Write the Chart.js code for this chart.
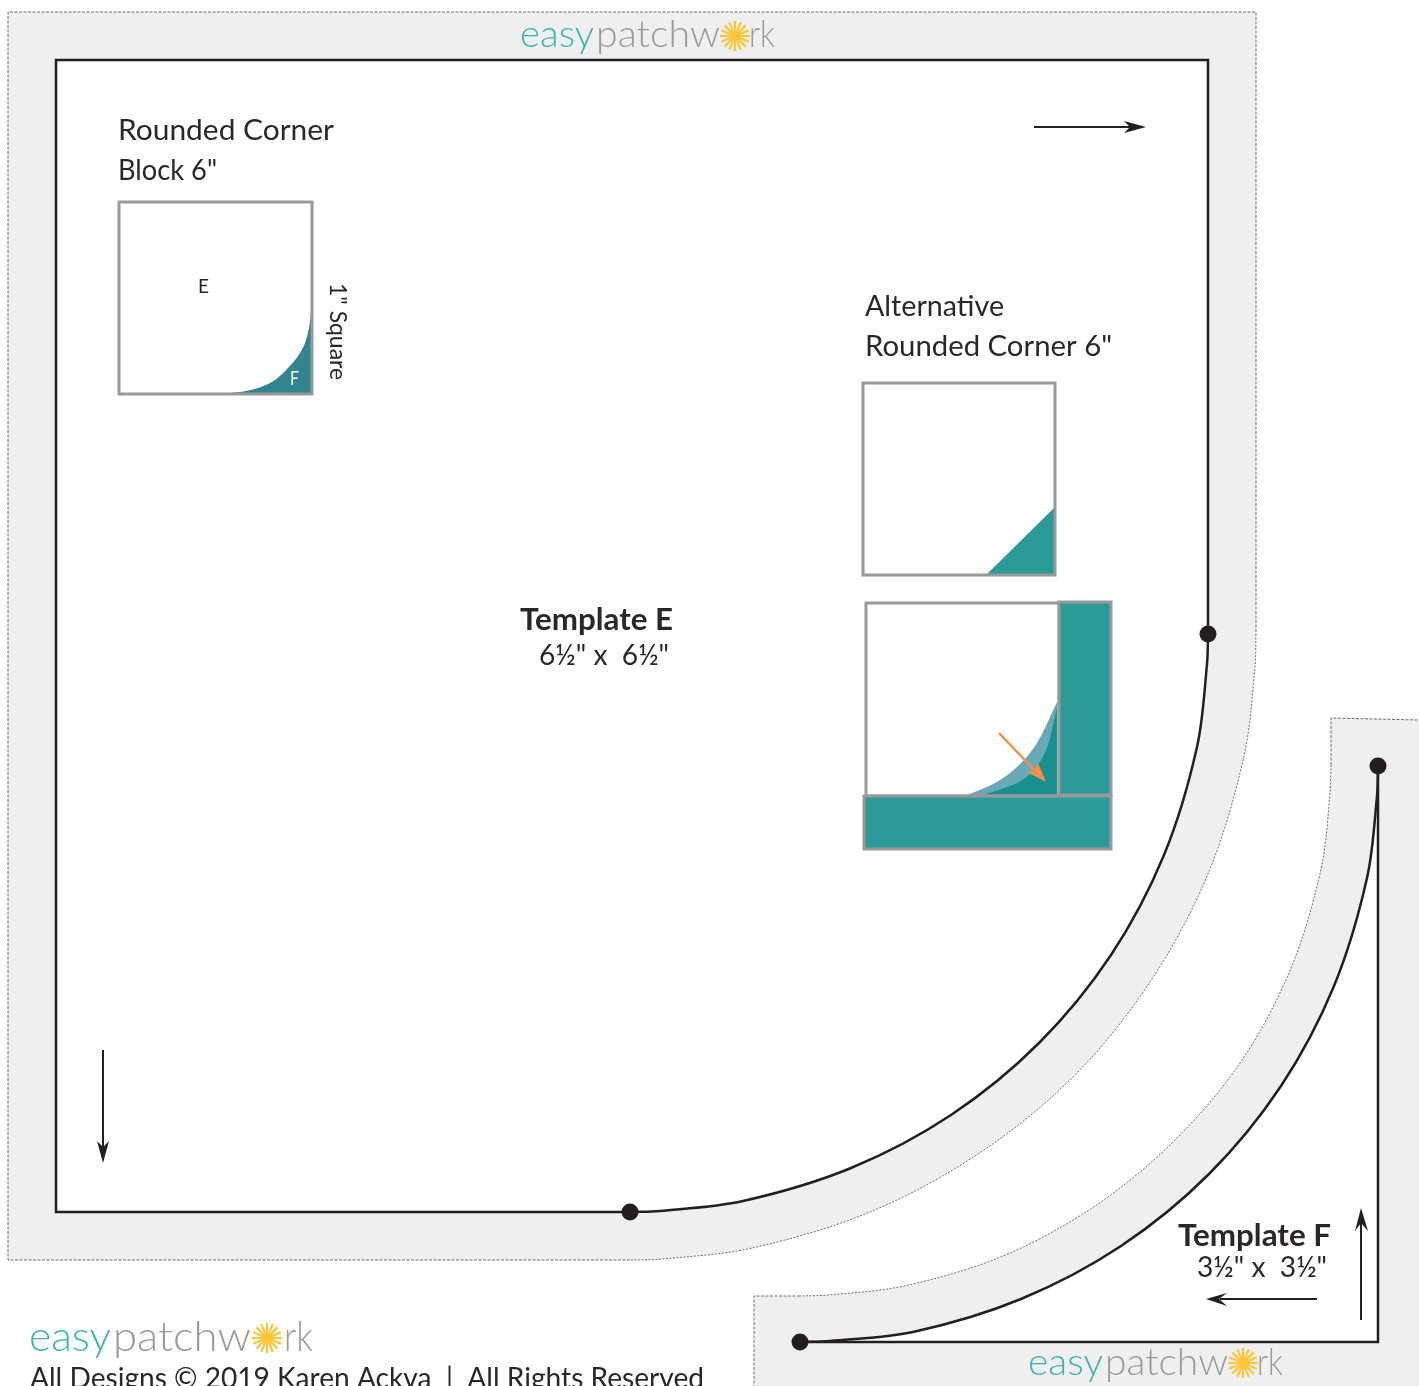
<!DOCTYPE html>
<html>
<head>
<meta charset="utf-8">
<title>Template E and F</title>
<style>
  html, body { margin: 0; padding: 0; background: #fff; overflow: hidden; }
  canvas { display: block; }
</style>
<script src="https://cdn.jsdelivr.net/npm/chart.js@4"></script>
</head>
<body>
<canvas id="chart1" width="1419" height="1386" style="width:1419px;height:1386px"></canvas>
<script>
//Template E outlines
var seamBoxE = [[8,12],[1256,12],[1256,636],[632,636],[632,1260],[8,1260]];
var seamArcE = [[1256,634],[1255,667],[1244,756],[1208,874],[1150,982],[1073,1077],[978,1154],[870,1212],[752,1248],[663,1259],[630,1260]];
var seamEdgeE = [[630,1260],[8,1260],[8,12],[1256,12],[1256,634]];
var cutBoxE = [[56,60],[1208,60],[1208,636],[632,636],[632,1212],[56,1212]];
var cutArcE = [[1208,634],[1207,664],[1197,747],[1164,855],[1111,955],[1039,1043],[951,1115],[851,1168],[743,1201],[660,1211],[630,1212]];
var cutEdgeE = [[630,1212],[56,1212],[56,60],[1208,60],[1208,634]];

//Template F outlines
var seamBoxF = [[1331,718],[1419,720],[1419,1386],[754,1386],[754,1296],[802,1296],[802,1380],[1331,1380]];
var seamArcF = [[1331,765],[1330,793],[1321,869],[1291,968],[1242,1060],[1175,1140],[1095,1206],[1003,1256],[904,1286],[828,1295],[800,1296]];
var seamEdgeF = [[800,1296],[754,1296],[754,1386]];
var seamTopF = [[1331,765],[1331,718],[1419,720]];
var cutCornerF = [[1378,766],[1378,1342],[800,1342]];
var cutArcF = [[1378,766],[1377,796],[1367,878],[1334,986],[1281,1086],[1209,1174],[1121,1246],[1021,1299],[913,1332],[830,1341],[800,1342]];

var matchDots = [[1208,634],[630,1212],[1378,766],[800,1342]];

//Small block pictures
var blockOne = [[119,202],[312,202],[312,394],[119,394]];
var blockOneCurve = [[230,393],[246,391],[261,387],[275,380],[287,369],[298,356],[305,343],[309,328],[311,312]];
var blockTwo = [[863,383],[1055,383],[1055,575],[863,575]];
var blockTwoCorner = [[987,574],[1055,507],[1055,574]];
var blockThree = [[866,603],[1059,603],[1059,796],[866,796]];
var stripRight = [[1059,602],[1111,602],[1111,795],[1059,795]];
var stripBottom = [[864,796],[1111,796],[1111,849],[864,849]];
var foldLightCurve = [[967,795],[995,783],[1017,767],[1037,743],[1057,702]];
var foldDarkCurve = [[983,795],[1017,783],[1034,770],[1047,748],[1057,707]];

//Arrows: shaft then head
var arrowRight = [[1034,127],[1132,127]];
var arrowRightHead = [[1146,127],[1124,121],[1130,127],[1124,133]];
var arrowDown = [[103,1050],[103,1150]];
var arrowDownHead = [[103,1163],[97,1141],[103,1147],[109,1141]];
var arrowLeft = [[1317,1299],[1220,1299]];
var arrowLeftHead = [[1206,1299],[1227,1293],[1219,1299],[1227,1306]];
var arrowUp = [[1361,1320],[1361,1222]];
var arrowUpHead = [[1361,1208],[1355,1231],[1361,1223],[1368,1231]];
var arrowOrange = [[999,733],[1040,776]];
var arrowOrangeHead = [[1046,782],[1027,772],[1034,770],[1038,763]];

var flowers = [[735,36],[267,1338],[1243,1363]];

//Text
var labelTexts = [
  "Rounded Corner", "Block 6\"", "E", "F", "1\" Square",
  "Alternative", "Rounded Corner 6\"",
  "Template E", "6½\" x  6½\"", "Template F", "3½\" x  3½\"",
  "All Designs © 2019 Karen Ackva  |  All Rights Reserved",
  "easy", "patchw", "rk",
  "easy", "patchw", "rk",
  "easy", "patchw", "rk"
];
//x, baseline, width, font, colour, rotation
var dark = "#2b2728", tealText = "#3fb3ae", greyText = "#999a9c";
var bookFont = "400 29px Lato", logoTop = "300 37px Lato", logoBig = "300 41px Lato";
var labelPlaces = [
  [118,140,216,bookFont,dark,0], [118,180,99,bookFont,dark,0],
  [198,293,11,"400 20px Lato",dark,0], [290,385,9,"400 20px Lato","#fff",0],
  [330,283,97,"400 23px Lato",dark,90],
  [865,316,139,bookFont,dark,0], [865,356,247,bookFont,dark,0],
  [520,630,153,"700 31px Lato",dark,0], [539,665,130,"400 28px Lato",dark,0],
  [1178,1246,153,"700 31px Lato",dark,0], [1197,1277,130,"400 28px Lato",dark,0],
  [30,1388,674,bookFont,dark,0],
  [520,47,74,logoTop,tealText,0], [596,47,124,logoTop,greyText,0], [749,47,26,logoTop,greyText,0],
  [29,1351,82,logoBig,tealText,0], [113,1351,138,logoBig,greyText,0], [284,1351,29,logoBig,greyText,0],
  [1028,1375,75,logoTop,tealText,0], [1105,1375,123,logoTop,greyText,0], [1257,1375,26,logoTop,greyText,0]
];

var seamGrey = "#efefef", dashGrey = "#6d6e70", ink = "#231f20", blockGrey = "#98999c";
var teal = "#2c9a97", tealDeep = "#32858f", foldPale = "#68a9b6", foldDeep = "#17908f", orange = "#f58e4d", yellow = "#fbc63a";
var arcTension = 1 / 3;

function toPoints(list) {
  return list.map(function(p) { return {x: p[0], y: p[1]}; });
}

function area(list, colour) {
  return {
    data: toPoints(list), showLine: true, fill: 'shape', backgroundColor: colour,
    borderWidth: 0, borderColor: colour, pointRadius: 0, tension: 0
  };
}

//Fill between a curve and a level line
function curveTo(list, level, colour) {
  return {
    data: toPoints(list), showLine: true, fill: {value: level}, backgroundColor: colour,
    borderWidth: 0, borderColor: colour, pointRadius: 0, tension: arcTension
  };
}

function stroke(list, colour, width, curved, dash) {
  return {
    data: toPoints(list), showLine: true, fill: false, borderColor: colour,
    borderWidth: width, pointRadius: 0, tension: curved ? arcTension : 0,
    borderDash: dash || [], borderJoinStyle: 'miter'
  };
}

function ring(list) {
  return stroke(list.concat([list[0], list[1]]), blockGrey, 3);
}

function flower(rotation) {
  return {
    data: toPoints(flowers), showLine: false, pointStyle: 'star', pointRadius: 15,
    pointRotation: rotation, pointBorderColor: yellow, pointBackgroundColor: yellow, pointBorderWidth: 2.2
  };
}

//Listed in paint order, bottom first
var layers = [
  area(seamBoxE, seamGrey), curveTo(seamArcE, 634, seamGrey),
  area(cutBoxE, "#fff"), curveTo(cutArcE, 634, "#fff"),
  stroke(seamEdgeE, dashGrey, 1, false, [3, 1.5]), stroke(seamArcE, dashGrey, 1, true, [2, 1.5]),

  area(seamBoxF, seamGrey), curveTo(seamArcF, 1386, seamGrey),
  curveTo(cutArcF, 1342, "#fff"),
  stroke(seamArcF, dashGrey, 1, true, [2, 1.5]),
  stroke(seamEdgeF, dashGrey, 1, false, [3, 1.5]), stroke(seamTopF, dashGrey, 1, false, [3, 1.5]),

  stroke(cutEdgeE, ink, 2.5), stroke(cutArcE, ink, 2.5, true),
  stroke(cutCornerF, ink, 2.5), stroke(cutArcF, ink, 2.5, true),
  {data: toPoints(matchDots), showLine: false, pointRadius: 8.5, pointBackgroundColor: ink, pointBorderWidth: 0},

  curveTo(blockOneCurve, 393, tealDeep), ring(blockOne),
  area(blockTwoCorner, teal), ring(blockTwo),

  curveTo(foldLightCurve, 795, foldPale), curveTo(foldDarkCurve, 795, foldDeep),
  ring(blockThree),
  area(stripRight, teal), ring(stripRight),
  area(stripBottom, teal), ring(stripBottom),

  stroke(arrowRight, ink, 2), area(arrowRightHead, ink),
  stroke(arrowDown, ink, 2), area(arrowDownHead, ink),
  stroke(arrowLeft, ink, 2), area(arrowLeftHead, ink),
  stroke(arrowUp, ink, 2), area(arrowUpHead, ink),
  stroke(arrowOrange, orange, 2.5), area(arrowOrangeHead, orange),
  flower(0), flower(22.5)
];

//Labels are fitted to the widths
var labelPlugin = {
  id: 'labelPlugin',
  afterDraw: function(chart) {
    var c = chart.ctx;
    labelTexts.forEach(function(text, i) {
      var place = labelPlaces[i];
      c.save();
      c.font = place[3];
      c.fillStyle = place[4];
      c.textBaseline = 'alphabetic';
      c.translate(chart.scales.x.getPixelForValue(place[0]), chart.scales.y.getPixelForValue(place[1]));
      c.rotate(place[5] * Math.PI / 180);
      c.scale(place[2] / c.measureText(text).width, 1);
      c.fillText(text, 0, 0);
      c.restore();
    });
  }
};

var ctx = document.getElementById("chart1").getContext('2d');

var myChart = new Chart(ctx, {
  type: 'scatter',
  data: { datasets: layers.reverse() }, //Chart.js paints the first dataset last
  options: {
    responsive: false,
    animation: false,
    layout: { padding: 0, autoPadding: false },
    plugins: { legend: { display: false }, tooltip: { enabled: false } },
    scales: {
      x: { type: 'linear', min: 0, max: 1419, display: false },
      y: { type: 'linear', min: 0, max: 1386, reverse: true, display: false }
    }
  },
  plugins: [labelPlugin]
});
</script>
</body>
</html>
